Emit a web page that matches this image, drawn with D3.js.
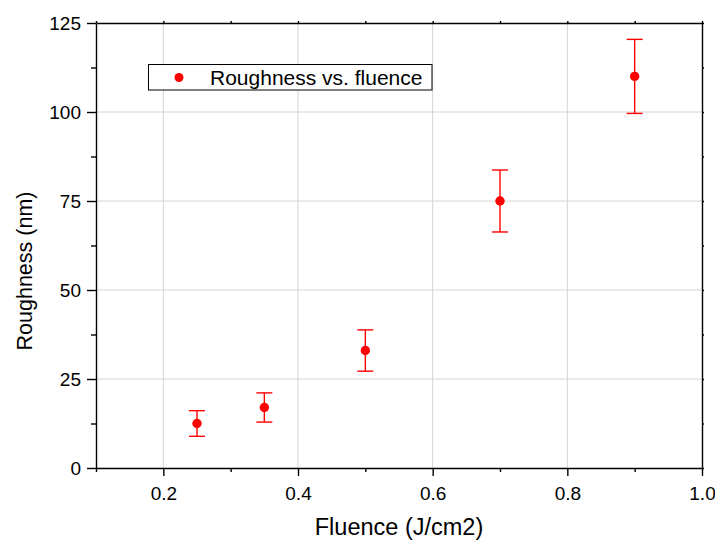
<!DOCTYPE html>
<html>
<head>
<meta charset="utf-8">
<script src="https://cdn.jsdelivr.net/npm/d3@7"></script>
<style>
  html, body { margin: 0; padding: 0; background: #fff; }
  svg { display: block; font-family: Arial, "Liberation Sans", sans-serif; }
</style>
</head>
<body>
<svg id="chart" width="715" height="540"></svg>
<script>
// Roughness measured at each laser fluence, with standard-deviation error
const fluence = [0.25, 0.35, 0.5, 0.7, 0.9];
const roughness = [12.5, 17.0, 33.0, 75.0, 110.0];
const roughnessErr = [3.6, 4.1, 5.8, 8.7, 10.4];

const xTicks = [0.2, 0.4, 0.6, 0.8, 1.0];
const xMinorTicks = [0.1, 0.3, 0.5, 0.7, 0.9];
const yTicks = [0, 25, 50, 75, 100, 125];
const yMinorTicks = [12.5, 37.5, 62.5, 87.5, 112.5];

const seriesName = "Roughness vs. fluence";
const xTitle = "Fluence (J/cm2)";
const yTitle = "Roughness (nm)";

const svg = d3.select("#chart");
const plot = { left: 96, right: 702, top: 23, bottom: 468 };

const x = d3.scaleLinear().domain([0.1, 1.0]).range([plot.left, plot.right]);
const y = d3.scaleLinear().domain([0, 125]).range([plot.bottom, plot.top]);

const red = "#ff0000";

// grid lines at major ticks
const grid = svg.append("g").attr("stroke", "#d4d4d4").attr("stroke-width", 1);
grid.selectAll(".gx").data(xTicks.filter(d => d < 1.0)).join("line")
  .attr("x1", d => x(d)).attr("x2", d => x(d))
  .attr("y1", plot.top).attr("y2", plot.bottom);
grid.selectAll(".gy").data(yTicks.filter(d => d > 0 && d < 125)).join("line")
  .attr("x1", plot.left).attr("x2", plot.right)
  .attr("y1", d => y(d)).attr("y2", d => y(d));

// axes helper
function styleAxis(g) {
  g.selectAll("path, line").attr("stroke", "#000").attr("stroke-width", 1.4);
  g.selectAll("text").attr("font-size", 19).attr("fill", "#000")
    .attr("font-family", "Arial, 'Liberation Sans', sans-serif");
}

// bottom axis: major and minor ticks
const bottomAxis = svg.append("g").attr("transform", `translate(0,${plot.bottom})`);
bottomAxis.call(d3.axisBottom(x).tickValues(xTicks).tickFormat(d3.format(".1f"))
  .tickSizeInner(8).tickSizeOuter(0).tickPadding(11));
bottomAxis.append("g").call(d3.axisBottom(x).tickValues(xMinorTicks).tickFormat("")
  .tickSizeInner(4).tickSizeOuter(0)).select(".domain").remove();
styleAxis(bottomAxis);

// left axis
const leftAxis = svg.append("g").attr("transform", `translate(${plot.left},0)`);
leftAxis.call(d3.axisLeft(y).tickValues(yTicks).tickFormat(d3.format("d"))
  .tickSizeInner(9).tickSizeOuter(0).tickPadding(6));
leftAxis.append("g").call(d3.axisLeft(y).tickValues(yMinorTicks).tickFormat("")
  .tickSizeInner(5).tickSizeOuter(0)).select(".domain").remove();
styleAxis(leftAxis);

// top and right frame with short ticks
const topAxis = svg.append("g").attr("transform", `translate(0,${plot.top})`);
topAxis.call(d3.axisTop(x).tickValues(xTicks.concat(xMinorTicks)).tickFormat("")
  .tickSizeInner(2).tickSizeOuter(0));
styleAxis(topAxis);
const rightAxis = svg.append("g").attr("transform", `translate(${plot.right},0)`);
rightAxis.call(d3.axisRight(y).tickValues(yTicks.concat(yMinorTicks)).tickFormat("")
  .tickSizeInner(2).tickSizeOuter(0));
styleAxis(rightAxis);

// data: error bars and points
const data = fluence.map((f, i) => ({ f, r: roughness[i], e: roughnessErr[i] }));
const capHalf = 8;
const bars = svg.append("g").attr("stroke", red).attr("stroke-width", 1.4);
bars.selectAll(".v").data(data).join("line")
  .attr("x1", d => x(d.f)).attr("x2", d => x(d.f))
  .attr("y1", d => y(d.r + d.e)).attr("y2", d => y(d.r - d.e));
bars.selectAll(".t").data(data).join("line")
  .attr("x1", d => x(d.f) - capHalf).attr("x2", d => x(d.f) + capHalf)
  .attr("y1", d => y(d.r + d.e)).attr("y2", d => y(d.r + d.e));
bars.selectAll(".b").data(data).join("line")
  .attr("x1", d => x(d.f) - capHalf).attr("x2", d => x(d.f) + capHalf)
  .attr("y1", d => y(d.r - d.e)).attr("y2", d => y(d.r - d.e));

svg.append("g").selectAll("circle").data(data).join("circle")
  .attr("cx", d => x(d.f)).attr("cy", d => y(d.r)).attr("r", 4.7)
  .attr("fill", red);

// legend
const legend = svg.append("g");
legend.append("rect").attr("x", 148.5).attr("y", 64.5).attr("width", 283.5).attr("height", 25.5)
  .attr("fill", "#fff").attr("stroke", "#000").attr("stroke-width", 1);
legend.append("circle").attr("cx", 179).attr("cy", 77.5).attr("r", 4.5).attr("fill", red);
legend.append("text").attr("x", 210).attr("y", 85).attr("font-size", 21).attr("fill", "#000")
  .text(seriesName);

// axis titles
svg.append("text").attr("x", (plot.left + plot.right) / 2).attr("y", 535)
  .attr("text-anchor", "middle").attr("font-size", 23.5).attr("fill", "#000")
  .text(xTitle);
svg.append("text").attr("transform", "translate(32,271) rotate(-90)")
  .attr("text-anchor", "middle").attr("font-size", 21.5).attr("fill", "#000")
  .text(yTitle);
</script>
</body>
</html>
